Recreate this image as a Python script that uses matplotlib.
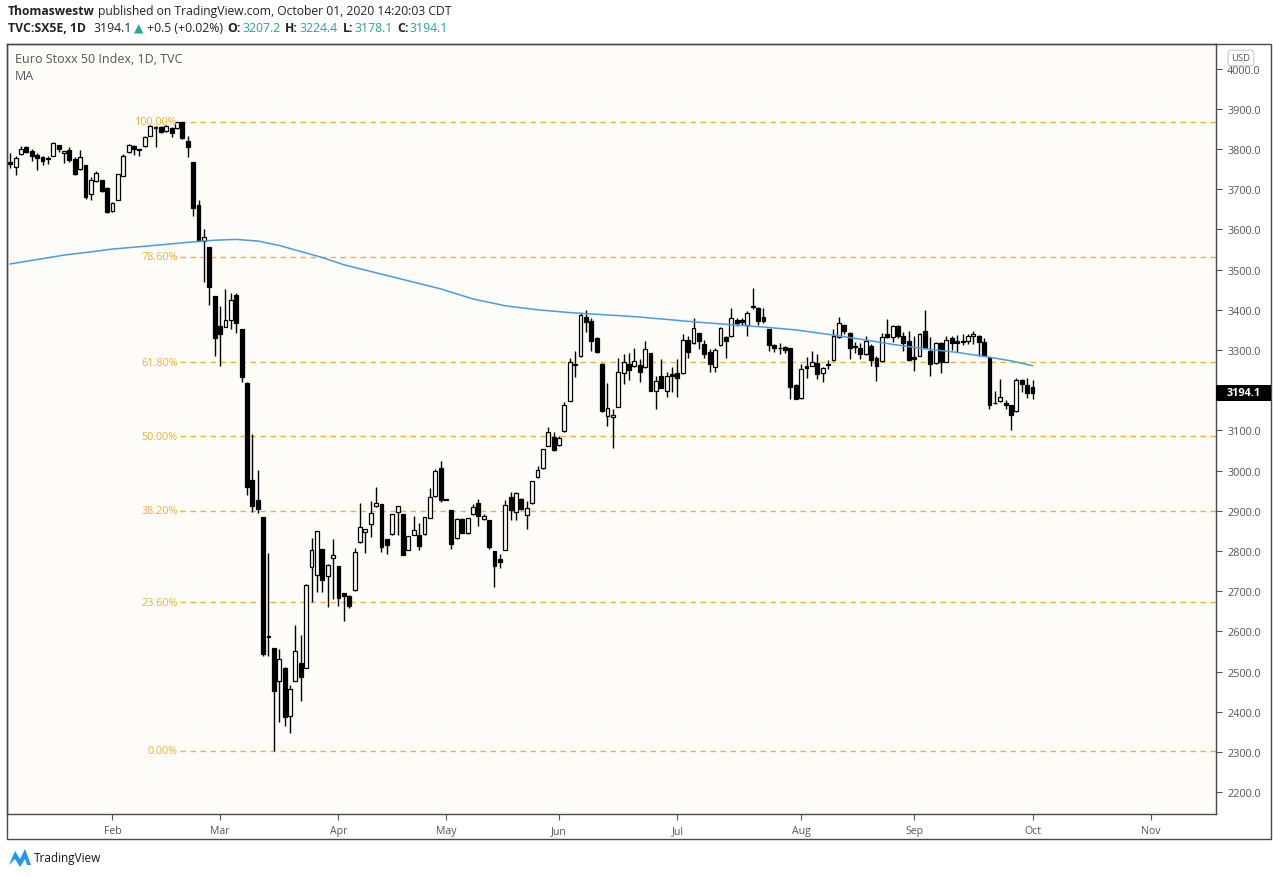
import numpy as np
import pandas as pd
import matplotlib
matplotlib.use("Agg")
import matplotlib.pyplot as plt
from matplotlib.transforms import IdentityTransform
from matplotlib.patches import Rectangle, Polygon

plt.rcParams['font.family'] = ['Open Sans', 'DejaVu Sans']

# daily bars (TVC:SX5E), Jan 7 - Oct 1 2020
opens = [3768, 3756, 3787, 3804, 3796, 3785, 3779, 3777, 3783, 3810, 3789, 3798, 3775, 3750, 3760, 3688, 3721, 3723, 3702,
         3646, 3674, 3733, 3793, 3808, 3799, 3808, 3833, 3855, 3854, 3845, 3852, 3851, 3866, 3820, 3768, 3660, 3570, 3555, 3434,
         3359, 3358, 3375, 3437, 3352, 3218, 2977, 2927, 2884, 2589, 2558, 2477, 2510, 2390, 2477, 2521, 2509, 2760, 2740, 2805, 2738, 2782,
         2762, 2695, 2687, 2702, 2822, 2848, 2868, 2913, 2917, 2830, 2842, 2897, 2892, 2803, 2840, 2840, 2842, 2882, 2936, 3006,
         2928, 2901, 2832, 2880, 2844, 2892, 2920, 2880, 2876, 2799, 2781, 2803, 2934, 2897, 2930, 2890, 2920, 2985, 3006, 3061, 3084,
         3064, 3098, 3173, 3266, 3284, 3381, 3371, 3330, 3266, 3137, 3133, 3158, 3242, 3265, 3259, 3263, 3257, 3292, 3199, 3235, 3199, 3241,
         3243, 3242, 3325, 3317, 3342, 3315, 3294, 3257, 3312, 3333, 3334, 3375, 3375, 3363, 3410, 3404, 3381, 3352, 3312, 3306, 3307, 3305, 3214,
         3180, 3259, 3261, 3268, 3242, 3264, 3274, 3332, 3362, 3342, 3310, 3304, 3290, 3311, 3280, 3272, 3340, 3332, 3359, 3336, 3323,
         3282, 3286, 3346, 3298, 3267, 3317, 3271, 3329, 3322, 3323, 3322, 3334, 3336, 3321, 3282, 3169, 3173, 3168, 3163, 3148, 3226, 3213,
         3207.2]
highs = [3789, 3783, 3808, 3808, 3801, 3789, 3783, 3783, 3818, 3810, 3794, 3806, 3779, 3798, 3760, 3729, 3746, 3723, 3705,
         3668, 3737, 3787, 3812, 3810, 3800, 3831, 3860, 3856, 3856, 3860, 3854, 3867.3, 3867, 3833, 3768, 3673, 3601, 3556, 3435,
         3409, 3452, 3442, 3442, 3353, 3220, 3091, 3002, 2885, 2795, 2558, 2557, 2512, 2466, 2616, 2592, 2718, 2833, 2850, 2806, 2768, 2830,
         2763, 2696, 2690, 2807, 2919, 2856, 2924, 2959, 2918, 2831, 2893, 2912, 2893, 2838, 2887, 2870, 2885, 2956, 3004, 3025,
         2928, 2902, 2882, 2881, 2883, 2917, 2930, 2893, 2877, 2800, 2793, 2927, 2946, 2948, 2931, 2924, 2975, 3012, 3055, 3108, 3095,
         3086, 3170, 3279, 3297, 3391, 3400, 3380, 3333, 3267, 3217, 3153, 3279, 3290, 3293, 3305, 3278, 3323, 3293, 3236, 3278, 3245, 3257,
         3278, 3340, 3336, 3380, 3343, 3326, 3302, 3305, 3357, 3334, 3404, 3379, 3379, 3398, 3454, 3406, 3404, 3353, 3314, 3317, 3311, 3306, 3215,
         3265, 3282, 3297, 3290, 3258, 3276, 3352, 3381, 3364, 3344, 3321, 3317, 3336, 3314, 3285, 3342, 3377, 3362, 3361, 3344, 3348,
         3336, 3343, 3400, 3332, 3321, 3321, 3334, 3336, 3337, 3341, 3341, 3346, 3337, 3329, 3283, 3197, 3228, 3175, 3164, 3230, 3228, 3230,
         3224.4]
lows = [3752, 3736, 3785, 3790, 3771, 3748, 3760, 3763, 3782, 3793, 3765, 3768, 3735, 3747, 3676, 3674, 3719, 3692, 3640,
        3642, 3674, 3732, 3791, 3785, 3782, 3806, 3831, 3804, 3839, 3843, 3830, 3849, 3824, 3780, 3634, 3570, 3470, 3412, 3286,
        3260, 3356, 3352, 3342, 3220, 2940, 2898, 2895, 2538, 2538, 2302.8, 2376, 2366, 2347, 2476, 2428, 2508, 2673, 2698, 2698, 2660, 2681,
        2664, 2627, 2658, 2701, 2821, 2795, 2834, 2909, 2797, 2793, 2841, 2840, 2790, 2802, 2839, 2803, 2841, 2881, 2935, 2921,
        2928, 2804, 2831, 2845, 2843, 2890, 2863, 2877, 2805, 2710, 2757, 2802, 2878, 2876, 2902, 2854, 2918, 2982, 3005, 3060, 3050,
        3062, 3097, 3172, 3234, 3283, 3344, 3297, 3293, 3147, 3112, 3056, 3157, 3216, 3226, 3258, 3221, 3256, 3198, 3153, 3205, 3183, 3195,
        3184, 3241, 3280, 3316, 3302, 3280, 3245, 3245, 3310, 3280, 3333, 3359, 3362, 3336, 3403, 3363, 3366, 3298, 3295, 3290, 3292, 3178, 3177,
        3179, 3230, 3260, 3228, 3221, 3252, 3273, 3331, 3340, 3278, 3292, 3278, 3288, 3260, 3224, 3271, 3331, 3319, 3330, 3298, 3273,
        3247, 3285, 3304, 3236, 3266, 3243, 3270, 3301, 3295, 3313, 3314, 3316, 3286, 3285, 3152, 3165, 3171, 3153, 3100, 3147, 3195, 3181,
        3178.1]
closes = [3762, 3777, 3800, 3793, 3783, 3777, 3771, 3775, 3814, 3800, 3794, 3772, 3738, 3781, 3680, 3723, 3740, 3695, 3644,
          3666, 3737, 3782, 3810, 3800, 3797, 3829, 3858, 3853, 3841, 3858, 3839, 3866, 3826, 3804, 3652, 3572, 3580, 3457, 3331,
          3341, 3375, 3424, 3366, 3234, 2960, 2911, 2905, 2544, 2586, 2451, 2532, 2387, 2458, 2551, 2486, 2716, 2803, 2849, 2729, 2766, 2789,
          2683, 2689, 2664, 2797, 2859, 2855, 2894, 2920, 2810, 2815, 2892, 2911, 2791, 2837, 2853, 2812, 2884, 2934, 3000, 2928,
          2928, 2817, 2880, 2846, 2882, 2909, 2886, 2887, 2810, 2762, 2772, 2915, 2902, 2944, 2905, 2907, 2974, 3001, 3054, 3097, 3052,
          3080, 3163, 3271, 3263, 3388, 3369, 3323, 3296, 3148, 3155, 3139, 3245, 3269, 3251, 3272, 3245, 3303, 3199, 3222, 3206, 3235, 3236,
          3231, 3325, 3296, 3354, 3323, 3289, 3265, 3300, 3354, 3323, 3380, 3367, 3369, 3392, 3406, 3373, 3371, 3313, 3305, 3304, 3300, 3209, 3178,
          3253, 3255, 3271, 3240, 3255, 3262, 3336, 3366, 3346, 3305, 3308, 3290, 3322, 3276, 3261, 3333, 3332, 3360, 3334, 3317, 3274,
          3278, 3341, 3305, 3265, 3317, 3271, 3326, 3317, 3317, 3319, 3334, 3341, 3319, 3286, 3162, 3167, 3183, 3162, 3139, 3226, 3216, 3193.6,
          3194.1]

# moving average, sampled at bar numbers
ma_bars = [0, 5, 10, 15, 19, 25, 30, 34, 38, 42, 46, 50, 54, 58, 62, 68, 74, 80, 86, 92, 98, 104, 110, 116, 122,
           128, 134, 140, 146, 152, 158, 164, 170, 176, 182, 186, 190]
ma_vals = [3514, 3525, 3536, 3544, 3551, 3558, 3564, 3569, 3573, 3575, 3571, 3560, 3545, 3530, 3512, 3492, 3472, 3452,
           3427, 3410, 3400, 3393, 3388, 3383, 3376, 3369, 3363, 3357, 3350, 3339, 3327, 3314, 3303, 3294, 3282, 3273, 3261]

fib_high = 3867.3
fib_low = 2302.8
fib_ratios = [1.0, 0.786, 0.618, 0.5, 0.382, 0.236, 0.0]
fib_labels = ["100.00%", "78.60%", "61.80%", "50.00%", "38.20%", "23.60%", "0.00%"]

month_names = ["Feb", "Mar", "Apr", "May", "Jun", "Jul", "Aug", "Sep", "Oct", "Nov"]
price_ticks = list(range(2200, 4001, 100))

# trading calendar (Easter holidays closed)
days = pd.bdate_range("2020-01-07", "2020-11-30")
days = days.drop(pd.to_datetime(["2020-04-10", "2020-04-13"]))

W, H = 1273, 878
fig = plt.figure(figsize=(W / 100, H / 100), dpi=100, facecolor="white")
ax = fig.add_axes([7 / W, 1 - 815 / H, (1216 - 7) / W, (815 - 45) / H])
bg = "#fdfcf9"
ax.set_facecolor(bg)

o = np.array(opens, float)
h = np.array(highs, float)
l = np.array(lows, float)
c = np.array(closes, float)
x = np.arange(len(o))
up = c >= o

ax.vlines(x, l, h, color="black", linewidth=1, zorder=2)
bottoms = np.minimum(o, c)
heights = np.maximum(np.abs(c - o), 1.5)
ax.bar(x, heights, bottom=bottoms, width=0.72,
       color=np.where(up, bg, "black"), edgecolor="black", linewidth=0.9, zorder=3)

ax.plot(ma_bars, ma_vals, color="#4a9be0", linewidth=1.1, zorder=4)

gold = "#f0b232"
xmax = 224.1
for r, lab in zip(fib_ratios, fib_labels):
    lvl = fib_low + r * (fib_high - fib_low)
    ax.hlines(lvl, 31.5, xmax, colors=gold, linestyles=(0, (4, 3.2)), linewidth=1, zorder=1)
    ax.text(31.1, lvl, lab, color=gold, fontsize=7.8, ha="right", va="center", zorder=5)

ax.set_xlim(-0.6, xmax)
ax.set_ylim(2146, 4061)

# month ticks at the first trading day of each month
tick_pos = []
for m in range(2, 12):
    tick_pos.append(int(np.argmax(days.month == m)))
ax.set_xticks(tick_pos)
ax.set_xticklabels(month_names)
ax.tick_params(axis="x", direction="out", length=4, color="#555555", labelcolor="#555555",
               labelsize=7.6, pad=4, width=0.8)

# the 3200 label sits under the last-price tag
ax.yaxis.tick_right()
ax.set_yticks(price_ticks)
ax.set_yticklabels(["" if p == 3200 else "%.1f" % p for p in price_ticks])
ax.tick_params(axis="y", direction="out", length=4, color="#555555", labelcolor="#555555",
               labelsize=7.8, pad=4, width=0.8)

for s in ax.spines.values():
    s.set_color("#4a4a4a")
    s.set_linewidth(1)

# outer frame of price / time scales
fig.patches.append(Rectangle((7, H - 840), 1264, 795, fill=False, edgecolor="#4a4a4a",
                             linewidth=1, transform=IdentityTransform(), zorder=0))

# last price tag
y_last = ax.transData.transform((0, c[-1]))[1]
fig.patches.append(Rectangle((1216, y_last - 8), 55, 16, facecolor="black", edgecolor="none",
                             transform=IdentityTransform(), zorder=5))
fig.text(1227, y_last, "3194.1", transform=IdentityTransform(), color="white",
         fontsize=7.8, fontweight="bold", va="center", ha="left", zorder=6)

# USD badge
fig.text(1241, H - 59, "USD", transform=IdentityTransform(), fontsize=6.8, color="#555555",
         ha="center", va="center", zorder=10,
         bbox=dict(boxstyle="round,pad=0.35,rounding_size=0.3", fc="white", ec="#c8c8c8", lw=0.8))

# titles inside the pane
ax.text(15, H - 60, "Euro Stoxx 50 Index, 1D, TVC", transform=IdentityTransform(),
        fontsize=9, color="#555555", va="center")
ax.text(15, H - 77, "MA", transform=IdentityTransform(), fontsize=9, color="#555555", va="center")

# header lines, drawn piece by piece
renderer = fig.canvas.get_renderer()


def run_text(xp, yp, parts, size):
    for txt, col, wt, gap in parts:
        t = fig.text(xp, yp, txt, transform=IdentityTransform(), fontsize=size, color=col,
                     fontweight=wt, va="center", ha="left")
        xp = t.get_window_extent(renderer).x1 + gap
    return xp


dark = "#222222"
teal = "#26a69a"
run_text(8, H - 12, [("Thomaswestw", dark, "bold", 3),
                     ("published on TradingView.com, October 01, 2020 14:20:03 CDT", dark, "normal", 0)], 8.7)
run_text(8, H - 29, [("TVC:SX5E, 1D", dark, "bold", 7),
                     ("3194.1", dark, "normal", 3),
                     ("\u25b2", teal, "normal", 3),
                     ("+0.5 (+0.02%)", dark, "normal", 5),
                     ("O:", dark, "bold", 1), ("3207.2", teal, "normal", 5),
                     ("H:", dark, "bold", 1), ("3224.4", teal, "normal", 5),
                     ("L:", dark, "bold", 1), ("3178.1", teal, "normal", 5),
                     ("C:", dark, "bold", 1), ("3194.1", teal, "normal", 0)], 8.8)

# TradingView logo and name at the bottom
logo = Polygon([(9, H - 866), (15, H - 852), (20, H - 860), (25, H - 850), (31, H - 866),
                (27, H - 866), (25, H - 860), (20, H - 868), (15, H - 860)],
               closed=True, facecolor="#2196f3", edgecolor="none", transform=IdentityTransform())
fig.patches.append(logo)
fig.text(34, H - 859, "TradingView", transform=IdentityTransform(), fontsize=8.5,
         color="#131722", va="center")

fig.savefig("out.png", dpi=100, facecolor="white")
